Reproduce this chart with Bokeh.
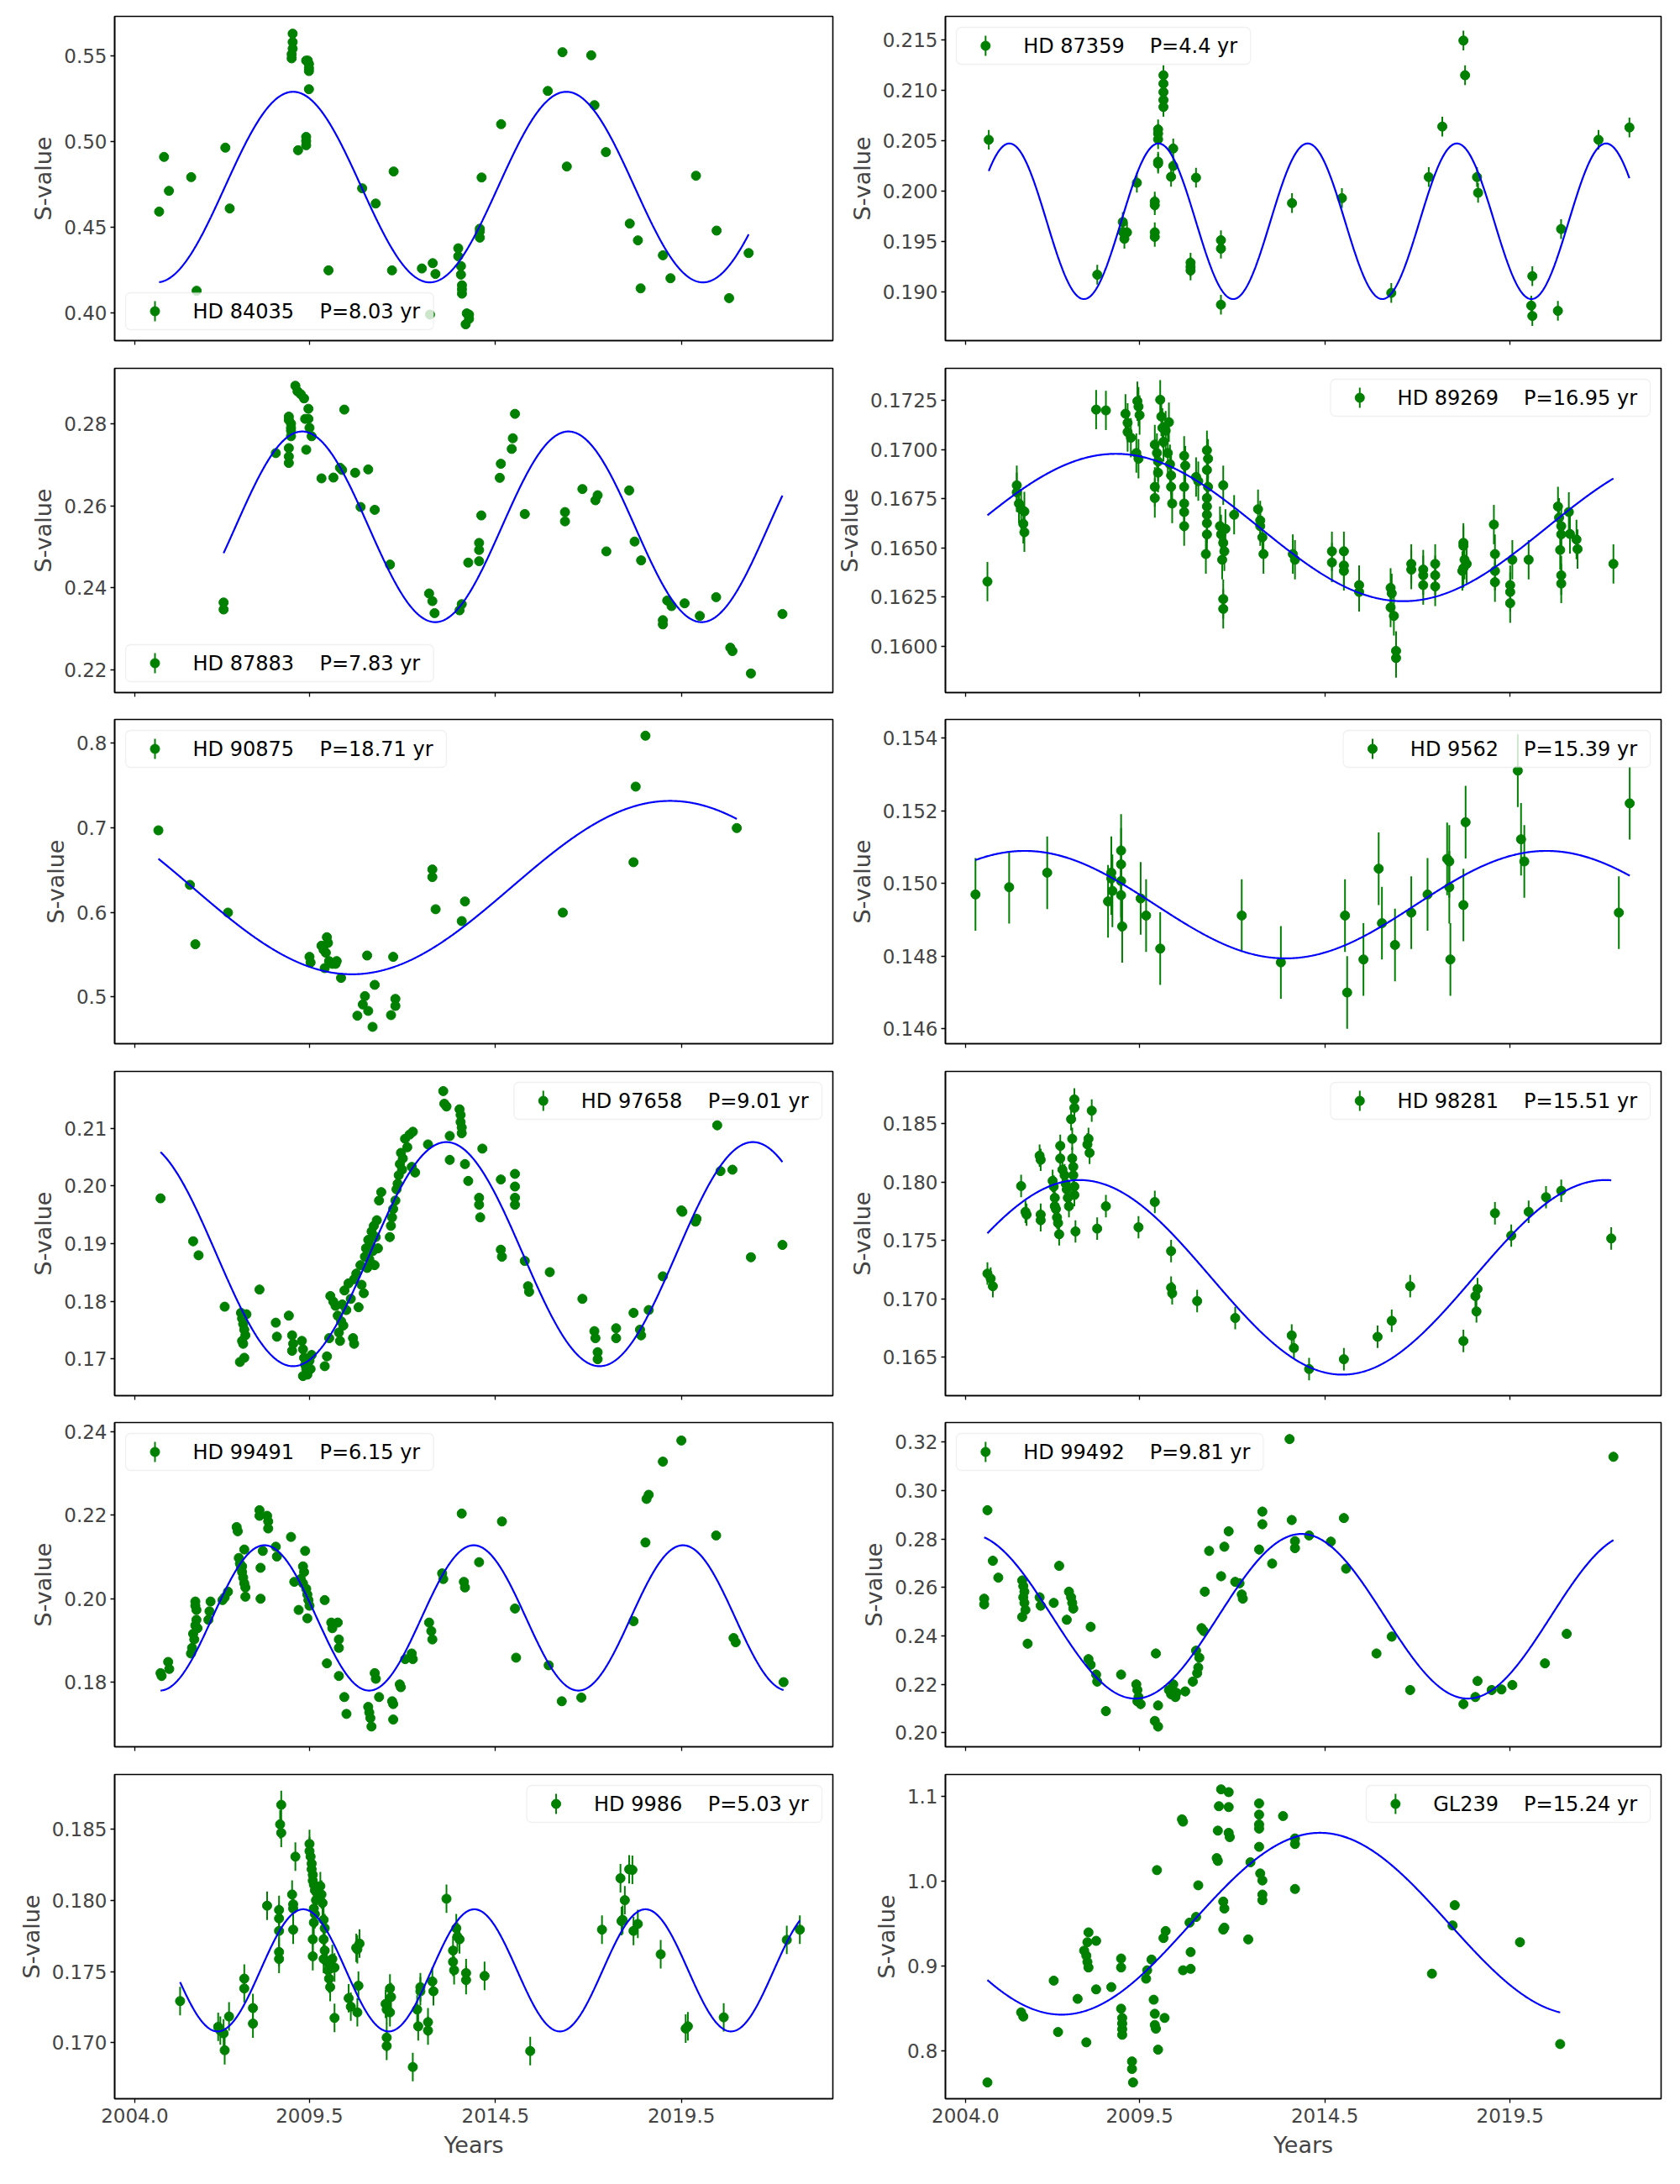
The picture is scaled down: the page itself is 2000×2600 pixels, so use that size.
import numpy as np
from bokeh.plotting import figure
from bokeh.layouts import gridplot
from bokeh.models import Range1d, FixedTicker, PrintfTickFormatter, BoxAnnotation, Label
from bokeh.embed import file_html
from bokeh.resources import INLINE

# ---------------- axis / labels ----------------
XTICKS = [2004.8, 2009.5, 2014.5, 2019.5]
XTICK_LABELS = ["2004.0", "2009.5", "2014.5", "2019.5"]
X_START, X_END = 2004.26, 2023.575
TIME_SCALE = 0.915   # plotted axis units per fitted year

stars = ["HD 84035", "HD 87359", "HD 87883", "HD 89269", "HD 90875", "HD 9562",
         "HD 97658", "HD 98281", "HD 99491", "HD 99492", "HD 9986", "GL239"]
periods = [8.03, 4.4, 7.83, 16.95, 18.71, 15.39, 9.01, 15.51, 6.15, 9.81, 5.03, 15.24]
period_labels = ["P=8.03 yr", "P=4.4 yr", "P=7.83 yr", "P=16.95 yr", "P=18.71 yr", "P=15.39 yr",
                 "P=9.01 yr", "P=15.51 yr", "P=6.15 yr", "P=9.81 yr", "P=5.03 yr", "P=15.24 yr"]
fit_mean = [0.4736, 0.19701, 0.25489, 0.16604, 0.6293, 0.14942,
            0.18816, 0.17184, 0.19537, 0.2481, 0.17508, 0.9498]
fit_amp = [0.0556, 0.00773, 0.0232, 0.00375, 0.1025, 0.00148,
           0.01942, 0.00833, 0.01739, 0.0340, 0.00429, 0.1072]
fit_tmax = [2009.06, 2010.012, 2009.30, 2008.86, 2019.20, 2006.40,
            2013.18, 2007.88, 2008.29, 2013.87, 2009.33, 2014.37]
s_err = [0.001, 0.00098, 0.0005, 0.001, 0.003, 0.001,
         0.0008, 0.00096, 0.001, 0.002, 0.001, 0.005]
y_lo = [0.384, 0.18515, 0.21454, 0.15764, 0.4447, 0.14559,
        0.16363, 0.16171, 0.16452, 0.19418, 0.16606, 0.7434]
y_hi = [0.5732, 0.21737, 0.29346, 0.17414, 0.8281, 0.15452,
        0.21983, 0.18947, 0.24215, 0.32812, 0.18884, 1.1258]
y_ticks = [
    [0.40, 0.45, 0.50, 0.55],
    [0.190, 0.195, 0.200, 0.205, 0.210, 0.215],
    [0.22, 0.24, 0.26, 0.28],
    [0.1600, 0.1625, 0.1650, 0.1675, 0.1700, 0.1725],
    [0.5, 0.6, 0.7, 0.8],
    [0.146, 0.148, 0.150, 0.152, 0.154],
    [0.17, 0.18, 0.19, 0.20, 0.21],
    [0.165, 0.170, 0.175, 0.180, 0.185],
    [0.18, 0.20, 0.22, 0.24],
    [0.20, 0.22, 0.24, 0.26, 0.28, 0.30, 0.32],
    [0.170, 0.175, 0.180, 0.185],
    [0.8, 0.9, 1.0, 1.1],
]
y_fmt = ["%.2f", "%.3f", "%.2f", "%.4f", "%.1f", "%.3f", "%.2f", "%.3f", "%.2f", "%.2f", "%.3f", "%.1f"]
legend_corner = ["bl", "tl", "bl", "tr", "tl", "tr", "tr", "tr", "tl", "tl", "tr", "tr"]

# ---------------- data ----------------
t_84035 = [
    2005.456, 2005.588, 2005.719, 2006.318, 2006.464, 2007.237, 2007.354, 2009.047,
    2009.047, 2009.047, 2009.020, 2009.020, 2009.193, 2009.410, 2009.455, 2009.485,
    2009.485, 2009.485, 2009.485, 2009.410, 2009.410, 2009.410, 2010.011, 2010.916,
    2011.281, 2011.719, 2011.763, 2012.522, 2012.814, 2012.887, 2012.741, 2013.500,
    2013.500, 2013.573, 2013.573, 2013.600, 2013.600, 2013.600, 2013.730, 2013.790,
    2013.700, 2013.790, 2014.080, 2014.080, 2014.080, 2014.128, 2014.653, 2015.909,
    2016.303, 2016.420, 2017.077, 2017.164, 2017.471, 2018.113, 2018.332, 2018.405,
    2019.004, 2019.208, 2019.894, 2020.449, 2020.785, 2021.310]
s_84035 = [
    0.4593, 0.4912, 0.4714, 0.4794, 0.4131, 0.4966, 0.4611, 0.5631,
    0.5582, 0.5544, 0.5511, 0.5487, 0.4951, 0.5474, 0.5474, 0.5454,
    0.5430, 0.5413, 0.5307, 0.5029, 0.5005, 0.4980, 0.4250, 0.4729,
    0.4640, 0.4250, 0.4827, 0.4261, 0.4292, 0.4229, 0.3992, 0.4379,
    0.4332, 0.4275, 0.4225, 0.4163, 0.4139, 0.4114, 0.3999, 0.3992,
    0.3935, 0.3967, 0.4493, 0.4477, 0.4441, 0.4792, 0.5103, 0.5297,
    0.5523, 0.4856, 0.5505, 0.5214, 0.4940, 0.4523, 0.4425, 0.4145,
    0.4338, 0.4204, 0.4802, 0.4482, 0.4088, 0.4351]

t_87359 = [
    2005.430, 2008.358, 2009.046, 2009.046, 2009.090, 2009.160, 2009.427, 2009.910,
    2009.910, 2009.910, 2009.910, 2010.000, 2010.000, 2010.000, 2010.000, 2010.000,
    2010.144, 2010.144, 2010.144, 2010.144, 2010.144, 2010.408, 2010.408, 2010.350,
    2010.876, 2010.876, 2010.876, 2011.023, 2011.696, 2011.696, 2011.696, 2013.614,
    2014.961, 2016.293, 2017.304, 2017.670, 2018.240, 2018.285, 2018.607, 2018.636,
    2020.100, 2020.070, 2020.100, 2020.790, 2020.876, 2021.886, 2022.720]
s_87359 = [
    0.20511, 0.19170, 0.19694, 0.19596, 0.19527, 0.19591, 0.20084, 0.19897,
    0.19861, 0.19591, 0.19546, 0.20614, 0.20572, 0.20516, 0.20293, 0.20274,
    0.21152, 0.21068, 0.20984, 0.20906, 0.20837, 0.20424, 0.20251, 0.20143,
    0.19290, 0.19248, 0.19212, 0.20134, 0.19513, 0.19429, 0.18872, 0.19881,
    0.19931, 0.18989, 0.20140, 0.20642, 0.21497, 0.21152, 0.20140, 0.19984,
    0.19156, 0.18863, 0.18760, 0.18811, 0.19624, 0.20511, 0.20633]

t_87883 = [
    2007.190, 2007.190, 2008.594, 2008.944, 2008.944, 2009.003, 2009.003, 2009.003,
    2009.003, 2008.944, 2008.944, 2008.944, 2009.120, 2009.178, 2009.266, 2009.354,
    2009.383, 2009.471, 2009.471, 2009.500, 2009.558, 2009.412, 2009.822, 2010.143,
    2010.319, 2010.377, 2010.436, 2010.728, 2011.079, 2010.874, 2011.254, 2011.664,
    2012.716, 2012.804, 2012.863, 2013.535, 2013.594, 2013.769, 2014.061, 2014.061,
    2014.061, 2014.120, 2014.617, 2014.646, 2014.939, 2014.968, 2015.026, 2015.290,
    2016.371, 2016.371, 2016.839, 2017.190, 2017.249, 2017.483, 2018.097, 2018.243,
    2018.418, 2019.003, 2019.003, 2019.120, 2019.237, 2019.588, 2019.997, 2020.436,
    2020.816, 2020.874, 2021.371, 2022.219]
s_87883 = [
    0.23647, 0.23477, 0.27283, 0.28171, 0.28089, 0.28000, 0.27898, 0.27829,
    0.27693, 0.27405, 0.27201, 0.27043, 0.28922, 0.28786, 0.28717, 0.28615,
    0.28116, 0.28362, 0.28116, 0.27898, 0.27693, 0.27365, 0.26668, 0.26688,
    0.26927, 0.26873, 0.28342, 0.26804, 0.26886, 0.25971, 0.25902, 0.24570,
    0.23866, 0.23681, 0.23388, 0.23456, 0.23606, 0.24618, 0.24652, 0.24925,
    0.25096, 0.25766, 0.26681, 0.27023, 0.27385, 0.27645, 0.28239, 0.25800,
    0.25848, 0.25622, 0.26408, 0.26135, 0.26258, 0.24891, 0.26374, 0.25130,
    0.24672, 0.23217, 0.23114, 0.23695, 0.23559, 0.23627, 0.23320, 0.23777,
    0.22547, 0.22465, 0.21919, 0.23367]

t_89269 = [
    2005.394, 2006.186, 2006.186, 2006.244, 2006.303, 2006.391, 2006.362, 2006.391,
    2008.327, 2008.591, 2009.119, 2009.177, 2009.177, 2009.265, 2009.412, 2009.471,
    2009.441, 2009.471, 2009.500, 2009.911, 2009.969, 2009.999, 2009.911, 2009.911,
    2009.999, 2010.057, 2010.087, 2010.116, 2010.145, 2010.204, 2010.263, 2010.321,
    2010.292, 2010.351, 2010.351, 2010.380, 2010.703, 2010.732, 2010.703, 2010.703,
    2010.703, 2010.703, 2011.025, 2011.084, 2011.318, 2011.348, 2011.318, 2011.348,
    2011.318, 2011.318, 2011.318, 2011.318, 2011.318, 2011.289, 2011.670, 2011.700,
    2011.758, 2011.729, 2011.788, 2011.758, 2011.758, 2011.817, 2011.758, 2012.052,
    2012.697, 2012.756, 2012.756, 2012.814, 2012.844, 2013.636, 2013.694, 2014.691,
    2014.691, 2015.014, 2015.014, 2015.014, 2015.425, 2015.425, 2016.275, 2016.305,
    2016.275, 2016.363, 2016.422, 2016.422, 2016.833, 2016.833, 2017.155, 2017.155,
    2017.155, 2017.478, 2017.478, 2017.478, 2018.240, 2018.240, 2018.270, 2018.240,
    2018.328, 2018.211, 2019.062, 2019.091, 2019.091, 2019.091, 2019.502, 2019.502,
    2019.502, 2019.560, 2020.000, 2020.792, 2020.821, 2020.880, 2020.880, 2020.851,
    2020.880, 2020.880, 2021.085, 2021.115, 2021.291, 2021.320, 2022.288]
s_89269 = [
    0.16329, 0.16819, 0.16783, 0.16726, 0.16697, 0.16686, 0.16623, 0.16580,
    0.17204, 0.17200, 0.17183, 0.17137, 0.17090, 0.17061, 0.16983, 0.16954,
    0.17247, 0.17219, 0.17176, 0.17026, 0.16983, 0.16940, 0.16811, 0.16754,
    0.16883, 0.17254, 0.17169, 0.17111, 0.17040, 0.17097, 0.16983, 0.16926,
    0.17140, 0.16869, 0.16811, 0.16726, 0.16969, 0.16919, 0.16811, 0.16726,
    0.16683, 0.16611, 0.16861, 0.16840, 0.16997, 0.16954, 0.16897, 0.16811,
    0.16754, 0.16711, 0.16669, 0.16626, 0.16569, 0.16469, 0.16611, 0.16569,
    0.16526, 0.16440, 0.16483, 0.16240, 0.16190, 0.16597, 0.16819, 0.16669,
    0.16697, 0.16640, 0.16611, 0.16554, 0.16469, 0.16469, 0.16440, 0.16483,
    0.16426, 0.16483, 0.16411, 0.16383, 0.16311, 0.16276, 0.16297, 0.16269,
    0.16197, 0.16154, 0.15976, 0.15940, 0.16419, 0.16390, 0.16390, 0.16361,
    0.16311, 0.16419, 0.16361, 0.16304, 0.16526, 0.16511, 0.16440, 0.16397,
    0.16419, 0.16383, 0.16619, 0.16469, 0.16383, 0.16326, 0.16311, 0.16276,
    0.16219, 0.16440, 0.16440, 0.16711, 0.16654, 0.16611, 0.16569, 0.16490,
    0.16361, 0.16319, 0.16683, 0.16571, 0.16543, 0.16494, 0.16419]

t_90875 = [
    2005.436, 2006.284, 2006.430, 2007.307, 2009.500, 2009.529, 2009.822, 2009.880,
    2009.939, 2009.968, 2009.997, 2009.909, 2010.026, 2010.114, 2010.231, 2010.202,
    2010.348, 2010.787, 2010.933, 2010.991, 2011.079, 2011.196, 2011.254, 2011.050,
    2011.693, 2011.810, 2011.810, 2011.751, 2012.804, 2012.804, 2012.892, 2013.594,
    2013.681, 2016.313, 2018.214, 2018.272, 2018.535, 2020.991]
s_90875 = [
    0.6970, 0.6325, 0.5623, 0.5997, 0.5474, 0.5407, 0.5606, 0.5556,
    0.5523, 0.5706, 0.5639, 0.5341, 0.5424, 0.5391, 0.5424, 0.5391,
    0.5225, 0.4778, 0.4911, 0.5010, 0.4835, 0.4646, 0.5143, 0.5490,
    0.4785, 0.4894, 0.4977, 0.5474, 0.6507, 0.6417, 0.6037, 0.5897,
    0.6129, 0.5997, 0.6593, 0.7487, 0.8089, 0.6997]

t_9562 = [
    2005.071, 2005.980, 2007.007, 2008.649, 2008.737, 2008.737, 2008.767, 2009.001,
    2009.001, 2009.001, 2009.001, 2009.031, 2009.529, 2009.676, 2010.057, 2012.257,
    2013.313, 2015.044, 2015.102, 2015.542, 2015.953, 2016.041, 2016.393, 2016.833,
    2017.272, 2017.800, 2017.859, 2017.859, 2017.888, 2018.240, 2018.299, 2019.707,
    2019.795, 2019.883, 2022.435, 2022.728]
s_9562 = [
    0.14970, 0.14990, 0.15030, 0.14951, 0.15030, 0.15014, 0.14980, 0.15091,
    0.15053, 0.15007, 0.14968, 0.14882, 0.14959, 0.14912, 0.14821, 0.14912,
    0.14783, 0.14912, 0.14700, 0.14791, 0.15041, 0.14891, 0.14831, 0.14920,
    0.14970, 0.15068, 0.15061, 0.14990, 0.14791, 0.14941, 0.15169, 0.15311,
    0.15122, 0.15061, 0.14920, 0.15221]

t_97658 = [
    2005.494, 2006.371, 2006.517, 2007.219, 2007.629, 2007.746, 2007.658, 2007.687,
    2007.716, 2007.746, 2007.775, 2007.687, 2007.716, 2007.804, 2008.155, 2008.594,
    2008.623, 2008.944, 2009.032, 2009.061, 2009.032, 2009.295, 2009.325, 2009.354,
    2009.383, 2009.412, 2009.442, 2009.500, 2009.558, 2009.325, 2009.529,
    2009.91, 2009.97, 2010.03, 2010.06, 2010.14, 2010.20, 2010.26, 2010.29,
    2010.32, 2010.35, 2010.38, 2010.41, 2010.44, 2010.49, 2010.55, 2010.61,
    2010.67, 2010.70, 2010.70, 2010.76, 2010.82, 2010.87, 2010.90, 2010.96,
    2010.99, 2011.02, 2011.05, 2011.08, 2011.11, 2011.14, 2011.17, 2011.20,
    2011.23, 2011.25, 2011.28, 2011.31, 2011.34, 2011.37, 2011.43, 2011.66,
    2011.69, 2011.72, 2011.75, 2011.81, 2011.84, 2011.87, 2011.90, 2011.93,
    2011.96, 2011.99, 2012.01, 2012.07, 2012.13, 2012.19, 2012.25, 2012.28,
    2012.34,
    2012.687, 2013.097, 2013.126, 2013.184, 2013.272, 2013.272, 2013.535, 2013.564,
    2013.564, 2013.594, 2013.594, 2013.681, 2013.769, 2014.061, 2014.061, 2014.091,
    2014.149, 2014.646, 2014.646, 2014.675, 2015.026, 2015.026, 2015.026, 2015.026,
    2015.290, 2015.377, 2015.406, 2015.962, 2016.839, 2017.161, 2017.190, 2017.249,
    2017.249, 2017.746, 2017.746, 2018.214, 2018.389, 2018.418, 2018.623, 2019.003,
    2019.500, 2019.529, 2019.909, 2019.880, 2020.465, 2020.553, 2020.874, 2021.371,
    2022.219]
s_97658 = [
    0.19783, 0.19039, 0.18796, 0.17905, 0.16947, 0.17020, 0.17798, 0.17701,
    0.17604, 0.17506, 0.17409, 0.17312, 0.17263, 0.17774, 0.18202, 0.17628,
    0.17385, 0.17750, 0.17409, 0.17263, 0.17141, 0.17312, 0.17166, 0.17020,
    0.16898, 0.16825, 0.16728, 0.16971, 0.17068, 0.16703, 0.16825,
    0.16874, 0.17044, 0.17360, 0.18090, 0.17993, 0.17920, 0.17750, 0.17457,
    0.17312, 0.17652, 0.17944, 0.17579, 0.18187, 0.17847, 0.18309, 0.18041,
    0.17360, 0.17263, 0.18382, 0.18479, 0.17896, 0.18625, 0.18285, 0.18139,
    0.18771, 0.18917, 0.18577, 0.19063, 0.18723, 0.18966, 0.19209, 0.18869,
    0.19307, 0.18625, 0.19112, 0.19404, 0.18917, 0.19745, 0.19891, 0.19112,
    0.19307, 0.19453, 0.19599, 0.19745, 0.19939, 0.20037, 0.20183, 0.20377,
    0.20572, 0.20280, 0.20474, 0.20815, 0.20669, 0.20888, 0.20328, 0.20937,
    0.20231,
    0.20718, 0.21642, 0.21423, 0.21375, 0.20864, 0.20450, 0.21326, 0.21229,
    0.21107, 0.21010, 0.20912, 0.20377, 0.20085, 0.19793, 0.19672, 0.19453,
    0.20645, 0.20110, 0.18893, 0.18771, 0.20207, 0.19988, 0.19793, 0.19672,
    0.18698, 0.18260, 0.18163, 0.18504, 0.18041, 0.17482, 0.17360, 0.17117,
    0.16995, 0.17531, 0.17360, 0.17798, 0.17506, 0.17409, 0.17847, 0.18431,
    0.19574, 0.19550, 0.19428, 0.19380, 0.21049, 0.20255, 0.20280, 0.18762,
    0.18976]

t_98281 = [
    2005.394, 2005.482, 2005.540, 2006.303, 2006.420, 2006.450, 2006.802, 2006.831,
    2006.831, 2006.831, 2007.154, 2007.183, 2007.212, 2007.212, 2007.242, 2007.271,
    2007.300, 2007.330, 2007.359, 2007.359, 2007.418, 2007.476, 2007.506, 2007.535,
    2007.564, 2007.594, 2007.652, 2007.682, 2007.740, 2007.740, 2007.682, 2007.711,
    2007.711, 2007.740, 2007.740, 2007.770, 2008.092, 2008.121, 2008.151, 2008.209,
    2008.356, 2008.591, 2009.471, 2009.911, 2010.351, 2010.351, 2010.380, 2011.054,
    2012.081, 2013.606, 2013.665, 2014.075, 2015.014, 2015.923, 2016.305, 2016.803,
    2018.240, 2018.563, 2018.621, 2018.592, 2019.091, 2019.531, 2020.000, 2020.469,
    2020.880, 2022.229]
s_98281 = [
    0.17216, 0.17173, 0.17108, 0.17966, 0.17745, 0.17721, 0.18226, 0.18190,
    0.17721, 0.17673, 0.18010, 0.17961, 0.17865, 0.17793, 0.17769, 0.17697,
    0.17649, 0.17553, 0.18310, 0.18202, 0.18106, 0.18058, 0.17986, 0.17937,
    0.17865, 0.17793, 0.18538, 0.18370, 0.18707, 0.18635, 0.18202, 0.18130,
    0.18058, 0.17961, 0.17889, 0.17577, 0.18322, 0.18370, 0.18250, 0.18611,
    0.17601, 0.17793, 0.17613, 0.17829, 0.17409, 0.17096, 0.17048, 0.16981,
    0.16836, 0.16687, 0.16579, 0.16399, 0.16483, 0.16675, 0.16812, 0.17108,
    0.16639, 0.17024, 0.17084, 0.16892, 0.17733, 0.17541, 0.17745, 0.17870,
    0.17925, 0.17517]

t_99491 = [
    2005.494, 2005.523, 2005.699, 2005.728, 2006.313, 2006.342, 2006.371, 2006.401,
    2006.430, 2006.459, 2006.488, 2006.430, 2006.459, 2006.430, 2006.781, 2006.810,
    2006.839, 2007.161, 2007.219, 2007.307, 2007.541, 2007.570, 2007.599, 2007.629,
    2007.658, 2007.687, 2007.716, 2007.746, 2007.775, 2007.687, 2007.746, 2007.775,
    2008.155, 2008.155, 2008.184, 2008.243, 2008.360, 2008.389, 2008.389, 2008.184,
    2008.594, 2008.623, 2009.003, 2009.091, 2009.208, 2009.266, 2009.325, 2009.354,
    2009.325, 2009.383, 2009.412, 2009.442, 2009.471, 2009.500, 2009.442, 2009.909,
    2010.085, 2010.114, 2010.260, 2010.290, 2010.290, 2009.968, 2010.290, 2010.436,
    2010.494, 2011.079, 2011.108, 2011.137, 2011.167, 2011.254, 2011.284, 2011.371,
    2011.722, 2011.751, 2011.751, 2011.927, 2011.956, 2012.073, 2012.249, 2012.278,
    2012.716, 2012.775, 2012.804, 2013.067, 2013.097, 2013.594, 2013.652, 2013.681,
    2014.061, 2014.675, 2015.026, 2015.056, 2015.933, 2016.284, 2016.810, 2018.214,
    2018.535, 2018.564, 2018.623, 2019.003, 2019.500, 2020.436, 2020.904, 2020.962,
    2022.249]
s_99491 = [
    0.18215, 0.18147, 0.18484, 0.18316, 0.18686, 0.18820, 0.19157, 0.19022,
    0.19358, 0.19493, 0.19291, 0.19829, 0.19728, 0.19930, 0.19493, 0.19695,
    0.19930, 0.19964, 0.20031, 0.20166, 0.21713, 0.21612, 0.20973, 0.20838,
    0.20737, 0.20636, 0.20502, 0.20367, 0.20266, 0.20771, 0.21175, 0.20045,
    0.22116, 0.21982, 0.20737, 0.21141, 0.21982, 0.21847, 0.21679, 0.19997,
    0.21242, 0.21007, 0.21477, 0.20401, 0.19728, 0.20468, 0.20771, 0.20636,
    0.20367, 0.21141, 0.20233, 0.20098, 0.19964, 0.19829, 0.19527, 0.19964,
    0.19426, 0.19291, 0.19426, 0.19022, 0.18820, 0.18450, 0.18147, 0.17643,
    0.17239, 0.17408, 0.17273, 0.17139, 0.16937, 0.18215, 0.18080, 0.17643,
    0.17542, 0.17475, 0.17105, 0.17946, 0.17879, 0.18551, 0.18686, 0.18551,
    0.19426, 0.19224, 0.19022, 0.20603, 0.20468, 0.22036, 0.20401, 0.20266,
    0.20872, 0.21847, 0.19762, 0.18585, 0.18403, 0.17542, 0.17630, 0.19459,
    0.21343, 0.22386, 0.22486, 0.23280, 0.23785, 0.21511, 0.19056, 0.18955,
    0.18000]

t_99492 = [
    2005.394, 2005.306, 2005.306, 2005.540, 2005.687, 2006.332, 2006.362, 2006.391,
    2006.362, 2006.391, 2006.420, 2006.332, 2006.479, 2006.802, 2006.831, 2007.183,
    2007.330, 2007.535, 2007.594, 2007.652, 2007.682, 2007.711, 2008.180, 2008.121,
    2008.180, 2008.327, 2008.356, 2008.591, 2009.001, 2009.412, 2009.441, 2009.471,
    2009.441, 2009.529, 2009.911, 2009.999, 2009.940, 2009.999, 2010.292, 2010.351,
    2010.409, 2010.468, 2010.497, 2010.732, 2010.937, 2011.025, 2011.054, 2011.084,
    2011.113, 2011.172, 2011.230, 2011.260, 2011.377, 2011.700, 2011.788, 2011.905,
    2012.081, 2012.198, 2012.257, 2012.286, 2012.726, 2012.814, 2012.814, 2013.078,
    2013.548, 2013.606, 2013.694, 2013.694, 2014.075, 2014.662, 2015.014, 2015.073,
    2015.894, 2016.305, 2016.803, 2018.240, 2018.563, 2018.621, 2019.003, 2019.267,
    2019.560, 2020.440, 2021.027, 2022.288]
s_99492 = [
    0.29191, 0.25535, 0.25303, 0.27102, 0.26405, 0.26289, 0.26057, 0.25825,
    0.25593, 0.25361, 0.25071, 0.24780, 0.23678, 0.25593, 0.25245, 0.25361,
    0.26893, 0.24664, 0.25825, 0.25593, 0.25361, 0.25129, 0.24374, 0.23039,
    0.22807, 0.22401, 0.22111, 0.20892, 0.22401, 0.21995, 0.21763, 0.21472,
    0.21298, 0.21182, 0.20486, 0.20254, 0.23271, 0.21124, 0.21763, 0.21588,
    0.21995, 0.21472, 0.21646, 0.21705, 0.22111, 0.23387, 0.22459, 0.22691,
    0.23097, 0.24316, 0.24200, 0.25825, 0.27508, 0.26463, 0.27682, 0.28320,
    0.26231, 0.26173, 0.25709, 0.25535, 0.27566, 0.28611, 0.29133, 0.26986,
    0.32128, 0.28785, 0.27914, 0.27624, 0.28147, 0.27891, 0.28866, 0.26777,
    0.23271, 0.23968, 0.21763, 0.21182, 0.21472, 0.22134, 0.21763, 0.21786,
    0.21972, 0.22865, 0.24084, 0.31396]

t_9986 = [
    2006.020, 2007.044, 2007.102, 2007.190, 2007.219, 2007.336, 2007.746, 2007.746,
    2007.979, 2007.979, 2008.360, 2008.681, 2008.681, 2008.681, 2008.681, 2008.681,
    2008.710, 2008.740, 2008.740, 2009.032, 2009.061, 2009.061, 2009.061, 2009.120,
    2009.500, 2009.500, 2009.529, 2009.558, 2009.558, 2009.588, 2009.588, 2009.617,
    2009.646, 2009.675, 2009.617, 2009.646, 2009.617, 2009.588, 2009.588, 2009.792,
    2009.822, 2009.851, 2009.880, 2009.909, 2009.880, 2009.909, 2009.880, 2009.968,
    2009.997, 2010.026, 2010.056, 2010.114, 2010.173, 2010.173, 2010.553, 2010.611,
    2010.757, 2010.787, 2010.845, 2010.787, 2010.816, 2011.547, 2011.576, 2011.576,
    2011.576, 2011.664, 2011.664, 2011.693, 2012.278, 2012.395, 2012.424, 2012.482,
    2012.482, 2012.687, 2012.687, 2012.804, 2012.833, 2013.184, 2013.360, 2013.360,
    2013.389, 2013.447, 2013.477, 2013.535, 2013.711, 2013.711, 2014.208, 2015.436,
    2017.366, 2017.863, 2017.892, 2017.921, 2017.980, 2018.097, 2018.184, 2018.214,
    2018.330, 2018.945, 2019.617, 2019.676, 2020.640, 2022.336, 2022.687]
s_9986 = [
    0.17292, 0.17111, 0.17085, 0.17065, 0.16947, 0.17184, 0.17450, 0.17381,
    0.17243, 0.17134, 0.17962, 0.17932, 0.17873, 0.17785, 0.17637, 0.17588,
    0.18534, 0.18474, 0.18671, 0.18041, 0.17972, 0.17942, 0.17794, 0.18307,
    0.18396, 0.18346, 0.18307, 0.18258, 0.18218, 0.18179, 0.18139, 0.18110,
    0.18070, 0.18001, 0.17942, 0.17903, 0.17844, 0.17726, 0.17607, 0.18100,
    0.18041, 0.17982, 0.17863, 0.17804, 0.17726, 0.17647, 0.17588, 0.17568,
    0.17509, 0.17450, 0.17390, 0.17588, 0.17528, 0.17174, 0.17312, 0.17253,
    0.17666, 0.17656, 0.17696, 0.17213, 0.17400, 0.17272, 0.17233, 0.17036,
    0.16977, 0.17381, 0.17213, 0.17321, 0.16829, 0.17233, 0.17115, 0.17390,
    0.17361, 0.17144, 0.17085, 0.17430, 0.17361, 0.18011, 0.17647, 0.17568,
    0.17509, 0.17804, 0.17745, 0.17726, 0.17489, 0.17440, 0.17469, 0.16941,
    0.17794, 0.18155, 0.17854, 0.17863, 0.18001, 0.18218, 0.18214, 0.17785,
    0.17834, 0.17621, 0.17099, 0.17115, 0.17178, 0.17722, 0.17794]

t_gl239 = [
    2005.394, 2006.303, 2006.362, 2007.183, 2007.300, 2007.828, 2008.004, 2008.063,
    2008.092, 2008.121, 2008.092, 2008.121, 2008.063, 2008.327, 2008.327, 2008.737,
    2009.001, 2009.001, 2009.001, 2009.031, 2009.031, 2009.031, 2009.031, 2009.295,
    2009.295, 2009.324, 2009.676, 2009.705, 2009.823, 2009.881, 2009.911, 2009.911,
    2009.940, 2009.969, 2009.999, 2010.145, 2010.175, 2010.204, 2010.644, 2010.673,
    2010.673, 2010.849, 2010.878, 2010.878, 2011.084, 2011.025, 2011.582, 2011.612,
    2011.641, 2011.612, 2011.700, 2011.758, 2011.788, 2011.788, 2011.758, 2011.905,
    2011.905, 2011.905, 2011.934, 2012.433, 2012.492, 2012.726, 2012.726, 2012.726,
    2012.726, 2012.726, 2012.756, 2012.814, 2012.814, 2012.814, 2013.372, 2013.694,
    2013.694, 2013.694, 2017.390, 2017.947, 2018.006, 2019.766, 2020.851]
s_gl239 = [
    0.7626, 0.8453, 0.8403, 0.8827, 0.8221, 0.8612, 0.9181, 0.9121,
    0.9280, 0.9396, 0.9048, 0.8982, 0.8099, 0.8724, 0.9296, 0.8751,
    0.9088, 0.8982, 0.8496, 0.8387, 0.8321, 0.8254, 0.8188, 0.7874,
    0.7785, 0.7626, 0.8850, 0.8949, 0.9075, 0.8602, 0.8436, 0.8304,
    0.8261, 1.0130, 0.8013, 0.9329, 0.8387, 0.9412, 1.0729, 1.0702,
    0.8949, 0.9511, 0.9164, 0.8966, 0.9951, 0.9578, 1.0272, 1.0239,
    1.0884, 1.0596, 1.1083, 0.9759, 0.9677, 0.9452, 0.9429, 1.1050,
    1.0874, 1.0570, 1.0520, 0.9313, 1.0223, 1.0917, 1.0785, 1.0669,
    1.0620, 1.0405, 1.0091, 1.0008, 0.9842, 0.9776, 1.0768, 1.0504,
    1.0438, 0.9908, 0.8909, 0.9478, 0.9717, 0.9280, 0.8079]

TIMES = [t_84035, t_87359, t_87883, t_89269, t_90875, t_9562,
         t_97658, t_98281, t_99491, t_99492, t_9986, t_gl239]
SVALS = [s_84035, s_87359, s_87883, s_89269, s_90875, s_9562,
         s_97658, s_98281, s_99491, s_99492, s_9986, s_gl239]

# ---------------- layout / style ----------------
FONT = "DejaVu Sans"
GREEN = "#008000"
FRAME_W, FRAME_H = 855, 386
ROW_H = [419, 418, 419, 418, 419, 495]
COL_W = [993, 999]
BORDER_L = [136, 129]
BORDER_R = [2, 15]
TOP = 19
LEG_FS = 24
LEG_H = 44
LEG_MARGIN = 13

CHAR_W = {" ": 0.318, ".": 0.318, "=": 0.838, "H": 0.752, "D": 0.770, "P": 0.603,
          "y": 0.592, "r": 0.411, "G": 0.775, "L": 0.557}
for d in "0123456789":
    CHAR_W[d] = 0.636


def text_w(s, fs):
    return sum(CHAR_W.get(c, 0.6) for c in s) * fs


def add_legend(p, name, plabel, corner):
    name_x = 80
    p_x = name_x + text_w(name, LEG_FS) + 4 * 0.318 * LEG_FS
    box_w = p_x + text_w(plabel, LEG_FS) + 16
    if corner[1] == "l":
        bx = LEG_MARGIN
    else:
        bx = FRAME_W - LEG_MARGIN - box_w
    if corner[0] == "b":
        by = LEG_MARGIN
    else:
        by = FRAME_H - LEG_MARGIN - LEG_H
    cy = by + LEG_H / 2.0
    box = BoxAnnotation(left=bx, right=bx + box_w, bottom=by, top=by + LEG_H,
                        x_range_name="px", y_range_name="py",
                        fill_color="white", fill_alpha=0.8,
                        line_color="#cccccc", line_width=1.3, border_radius=6)
    p.add_layout(box)
    p.segment(x0=[bx + 35], y0=[cy - 12], x1=[bx + 35], y1=[cy + 12],
              line_color=GREEN, line_width=2, x_range_name="px", y_range_name="py",
              level="overlay")
    p.scatter(x=[bx + 35], y=[cy], size=11, fill_color=GREEN, line_color=GREEN,
              x_range_name="px", y_range_name="py", level="overlay")
    for tx, txt in ((bx + name_x, name), (bx + p_x, plabel)):
        lab = Label(x=tx, y=cy, text=txt, x_range_name="px", y_range_name="py",
                    text_font=FONT, text_font_size=f"{LEG_FS}px", text_baseline="middle",
                    text_align="left", text_color="black", level="overlay")
        p.add_layout(lab)


def make_panel(i):
    row, col = divmod(i, 2)
    h = ROW_H[row]
    last = row == len(ROW_H) - 1
    t = np.asarray(TIMES[i], dtype=float)
    s = np.asarray(SVALS[i], dtype=float)
    n = min(len(t), len(s))
    t, s = t[:n], s[:n]
    e = s_err[i]

    p = figure(width=COL_W[col], height=h,
               x_range=Range1d(X_START, X_END), y_range=Range1d(y_lo[i], y_hi[i]),
               output_backend="svg", toolbar_location=None,
               min_border_left=BORDER_L[col], min_border_right=BORDER_R[col],
               min_border_top=TOP, min_border_bottom=h - TOP - FRAME_H)
    p.extra_x_ranges = {"px": Range1d(0, FRAME_W)}
    p.extra_y_ranges = {"py": Range1d(0, FRAME_H)}
    p.background_fill_color = "white"
    p.border_fill_color = "white"
    p.outline_line_color = "black"
    p.outline_line_width = 1.6
    p.xgrid.visible = False
    p.ygrid.visible = False

    # error bars and points
    p.segment(x0=t, y0=s - e, x1=t, y1=s + e, line_color=GREEN, line_width=2)
    p.scatter(t, s, size=11, fill_color=GREEN, line_color=GREEN)

    # sinusoidal fit
    tt = np.linspace(t.min(), t.max(), 900)
    yy = fit_mean[i] + fit_amp[i] * np.cos(2 * np.pi * (tt - fit_tmax[i]) / (periods[i] * TIME_SCALE))
    p.line(tt, yy, line_color="blue", line_width=2.2)

    # y axis
    ya = p.yaxis[0]
    ya.ticker = FixedTicker(ticks=y_ticks[i])
    ya.formatter = PrintfTickFormatter(format=y_fmt[i])
    ya.axis_label = "S-value"
    ya.axis_label_text_font = FONT
    ya.axis_label_text_font_size = "27px"
    ya.axis_label_text_font_style = "normal"
    ya.axis_label_standoff = 6
    ya.major_label_text_font = FONT
    ya.major_label_text_font_size = "23px"
    ya.major_label_standoff = 4
    ya.major_tick_out = 5
    ya.major_tick_in = 0
    ya.major_tick_line_width = 1.3
    ya.minor_tick_line_color = None
    ya.axis_line_width = 1.6

    # x axis (shared: labels only on the bottom row, tick marks everywhere)
    xa = p.xaxis[0]
    xa.axis_line_width = 1.6
    if last:
        xa.ticker = FixedTicker(ticks=XTICKS)
        xa.major_label_overrides = {k: v for k, v in zip(XTICKS, XTICK_LABELS)}
        xa.major_tick_out = 5
        xa.major_tick_in = 0
        xa.major_tick_line_width = 1.3
        xa.minor_tick_line_color = None
        xa.major_label_text_font = FONT
        xa.major_label_text_font_size = "23px"
        xa.major_label_standoff = 6
        xa.axis_label = "Years"
        xa.axis_label_text_font = FONT
        xa.axis_label_text_font_size = "27px"
        xa.axis_label_text_font_style = "normal"
        xa.axis_label_standoff = 8
    else:
        xa.ticker = FixedTicker(ticks=[], minor_ticks=XTICKS)
        xa.major_tick_line_color = None
        xa.minor_tick_out = 5
        xa.minor_tick_in = 0
        xa.minor_tick_line_width = 1.3
        xa.minor_tick_line_color = "black"
        xa.major_label_standoff = 0

    add_legend(p, stars[i], period_labels[i], legend_corner[i])
    return p


panels = [make_panel(i) for i in range(12)]
grid = gridplot([[panels[2 * r], panels[2 * r + 1]] for r in range(6)], toolbar_location=None)

open("out.html", "w").write(file_html(grid, INLINE, "S-value time series"))
